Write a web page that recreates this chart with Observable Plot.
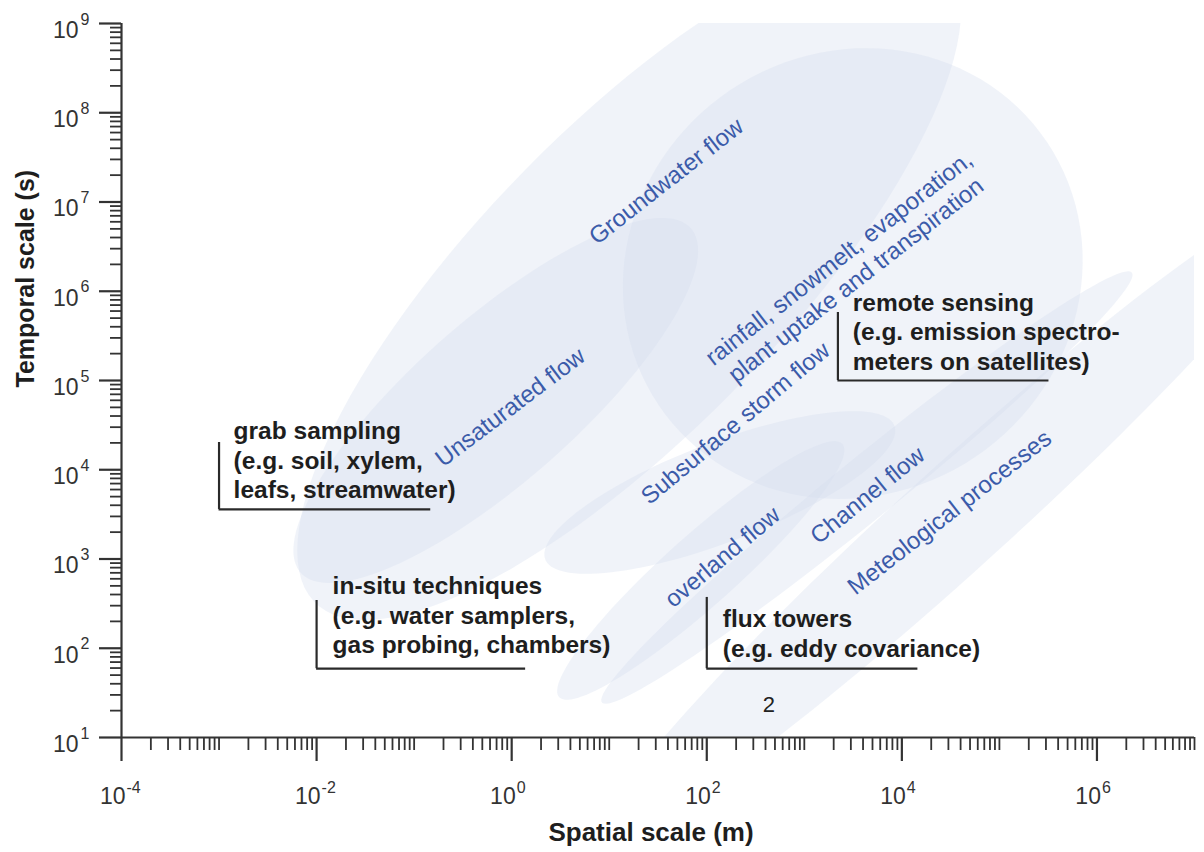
<!DOCTYPE html>
<html>
<head>
<meta charset="utf-8">
<script src="https://cdn.jsdelivr.net/npm/d3@7"></script>
<script src="https://cdn.jsdelivr.net/npm/@observablehq/plot@0.6"></script>
<style>
  html, body { margin: 0; padding: 0; background: #fff; }
  #chart { width: 1204px; height: 852px; }
</style>
</head>
<body>
<div id="chart"></div>
<script>
// ---- Axis domains and tick labels ----
const xDomain = [1e-4, 1e7];          // spatial scale (m)
const yDomain = [1e1, 1e9];           // temporal scale (s)
const xMajorTicks = [1e-4, 1e-2, 1e0, 1e2, 1e4, 1e6];
const xMajorExp = ["-4", "-2", "0", "2", "4", "6"];
const yMajorTicks = [1e1, 1e2, 1e3, 1e4, 1e5, 1e6, 1e7, 1e8, 1e9];
const yMajorExp = ["1", "2", "3", "4", "5", "6", "7", "8", "9"];
const xTitle = "Spatial scale (m)";
const yTitle = "Temporal scale (s)";

// ---- Process regions (ellipses in log–log space) ----
const regionNames   = ["Groundwater", "Unsaturated", "Rainfall etc.", "Subsurface storm", "Overland", "Channel", "Meteorological"];
const regionCenterX = [16, 0.686, 3140, 136, 86.7, 4380, 35800];      // m
const regionCenterY = [1.32e6, 5.97e4, 1.58e6, 5560, 743, 6320, 2850]; // s
const regionMajor   = [4.84, 2.78, 2.55, 1.94, 2.03, 3.63, 5.13];     // decades
const regionMinor   = [1.62, 0.87, 2.33, 0.55, 0.38, 0.33, 0.56];     // decades
const regionAngle   = [49, 44.5, 70, 23, 44.5, 41.6, 44.8];           // degrees in decade space

// ---- Process labels ----
const processText = ["Groundwater flow", "Unsaturated flow",
  "rainfall, snowmelt, evaporation,\nplant uptake and transpiration",
  "Subsurface storm flow", "overland flow", "Channel flow", "Meteological processes"];
const processX = [37.9, 0.954, 2730, 194, 142.6, 4380, 30300];
const processY = [1.74e7, 5.12e4, 1.8e6, 3.38e4, 1070, 5280, 3400];
const processRotate = [-38, -37, -38, -40, -40, -39, -38];

// ---- Measurement technique annotations (bracket corner, bracket ends, text anchor) ----
const techText = ["grab sampling\n(e.g. soil, xylem,\nleafs, streamwater)",
  "in-situ techniques\n(e.g. water samplers,\ngas probing, chambers)",
  "remote sensing\n(e.g. emission spectro-\nmeters on satellites)",
  "flux towers\n(e.g. eddy covariance)"];
const techCornerX = [1e-3, 1e-2, 2210, 100];
const techCornerY = [3590, 59, 1e5, 59];
const techEndX    = [0.148, 1.39, 3.22e5, 1.46e4];
const techTopY    = [2.02e4, 343, 5.78e5, 371];
const techTextX   = [1.41e-3, 0.0146, 3140, 146];
const techTextY   = [3.85e4, 706, 1.05e6, 301];

const extraText = ["2"];
const extraX = [433];
const extraY = [23.4];

// ---- Build tables ----
const xMinorTicks = [];
for (let e = -4; e <= 6; e++) {
  for (let m = 1; m <= 9; m++) {
    if (m === 1 && e % 2 === 0) continue;
    xMinorTicks.push(m * Math.pow(10, e));
  }
}
xMinorTicks.push(1e7);
const yMinorTicks = [];
for (let e = 1; e <= 8; e++) for (let m = 2; m <= 9; m++) yMinorTicks.push(m * Math.pow(10, e));

const regionPts = [];
regionNames.forEach((name, i) => {
  const th = regionAngle[i] * Math.PI / 180;
  const a = regionMajor[i], b = regionMinor[i];
  const lx = Math.log10(regionCenterX[i]), ly = Math.log10(regionCenterY[i]);
  for (let k = 0; k < 120; k++) {
    const t = k / 120 * 2 * Math.PI;
    const X = a * Math.cos(t) * Math.cos(th) - b * Math.sin(t) * Math.sin(th);
    const Y = a * Math.cos(t) * Math.sin(th) + b * Math.sin(t) * Math.cos(th);
    regionPts.push({id: name, x: Math.pow(10, lx + X), y: Math.pow(10, ly + Y)});
  }
});
const processes = processText.map((t, i) => ({text: t, x: processX[i], y: processY[i], r: processRotate[i]}));
const techs = techText.map((t, i) => ({text: t, cx: techCornerX[i], cy: techCornerY[i], ex: techEndX[i], ty: techTopY[i], tx: techTextX[i], tyy: techTextY[i]}));
const extras = extraText.map((t, i) => ({text: t, x: extraX[i], y: extraY[i]}));

const axisColor = "#333";
const chart = Plot.plot({
  width: 1204,
  height: 852,
  marginLeft: 121,
  marginRight: 10,
  marginTop: 23,
  marginBottom: 115,
  x: {type: "log", domain: xDomain, axis: null},
  y: {type: "log", domain: yDomain, axis: null},
  style: {fontFamily: "'Liberation Sans', Arial, Helvetica, sans-serif", background: "#fff", color: axisColor},
  marks: [
    Plot.line(regionPts, {x: "x", y: "y", z: "id", curve: "linear-closed", fill: "#d3ddef", fillOpacity: 0.35, stroke: "none", clip: true}),
    // process labels
    Plot.text(processes, {x: "x", y: "y", text: "text", rotate: "r", fill: "#3b5ba9", fontSize: 24, lineHeight: 1.15, textAnchor: "middle"}),
    // technique brackets
    Plot.ruleX(techs, {x: "cx", y1: "cy", y2: "ty", stroke: "#2a2a2a", strokeWidth: 2.2}),
    Plot.ruleY(techs, {y: "cy", x1: "cx", x2: "ex", stroke: "#2a2a2a", strokeWidth: 2.2}),
    Plot.text(techs, {x: "tx", y: "tyy", text: "text", textAnchor: "start", lineAnchor: "top", fontSize: 24.5, fontWeight: "bold", lineHeight: 1.22, fill: "#1e1e1e"}),
    Plot.text(extras, {x: "x", y: "y", text: "text", fontSize: 22, fill: "#222"}),
    // axes lines
    Plot.ruleY([yDomain[0]], {stroke: axisColor, strokeWidth: 2.2}),
    Plot.ruleX([xDomain[0]], {stroke: axisColor, strokeWidth: 2.2}),
    // ticks
    Plot.axisX({ticks: xMinorTicks, tickSize: 13, tickFormat: () => "", label: null, stroke: axisColor, strokeWidth: 1.8}),
    Plot.axisX({ticks: xMajorTicks, tickSize: 24, tickFormat: () => "", label: null, stroke: axisColor, strokeWidth: 2.2}),
    Plot.axisY({ticks: yMinorTicks, tickSize: 11, tickFormat: () => "", label: null, stroke: axisColor, strokeWidth: 1.8}),
    Plot.axisY({ticks: yMajorTicks, tickSize: 22, tickFormat: () => "", label: null, stroke: axisColor, strokeWidth: 2.2}),
    // tick labels: base and exponent
    Plot.text(xMajorTicks, {x: d => d, frameAnchor: "bottom", text: () => "10", textAnchor: "end", lineAnchor: "middle", dx: 4, dy: 59, fontSize: 23, fill: axisColor}),
    Plot.text(xMajorTicks, {x: d => d, frameAnchor: "bottom", text: (d, i) => xMajorExp[i], textAnchor: "start", lineAnchor: "middle", dx: 5, dy: 50, fontSize: 16, fill: axisColor}),
    Plot.text(yMajorTicks, {y: d => d, frameAnchor: "left", text: () => "10", textAnchor: "end", lineAnchor: "middle", dx: -43, dy: 7, fontSize: 23, fill: axisColor}),
    Plot.text(yMajorTicks, {y: d => d, frameAnchor: "left", text: (d, i) => yMajorExp[i], textAnchor: "start", lineAnchor: "middle", dx: -41, dy: -4, fontSize: 16, fill: axisColor}),
    // axis titles
    Plot.text([xTitle], {frameAnchor: "bottom", text: d => d, dx: -7, dy: 95, fontSize: 26, fontWeight: "bold", fill: "#1e1e1e", lineAnchor: "middle"}),
    Plot.text([yTitle], {frameAnchor: "left", text: d => d, dx: -96, dy: 7, rotate: -90, fontSize: 25, fontWeight: "bold", fill: "#1e1e1e", lineAnchor: "middle"})
  ]
});
document.getElementById("chart").appendChild(chart);
</script>
</body>
</html>
